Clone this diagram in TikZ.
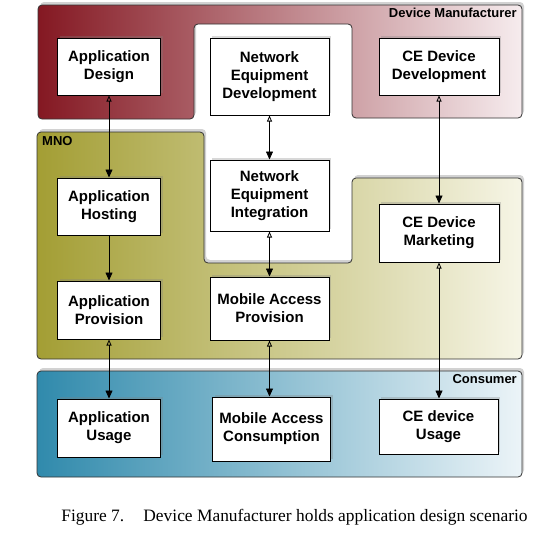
\documentclass[tikz,border=0pt]{standalone}
\usepackage{fontspec}
\setmainfont{Liberation Serif}
\setsansfont{Liberation Sans}
\usepackage{tikz}
\usetikzlibrary{arrows.meta,shadows}

\definecolor{dmdark}{RGB}{132,24,34}
\definecolor{dmmid}{RGB}{184,112,120}
\definecolor{dmlight}{RGB}{246,236,238}
\definecolor{mnodark}{RGB}{163,158,52}
\definecolor{mnomid}{RGB}{208,205,132}
\definecolor{mnolight}{RGB}{246,245,230}
\definecolor{condark}{RGB}{48,138,172}
\definecolor{conmid}{RGB}{130,185,208}
\definecolor{conlight}{RGB}{236,244,248}

\tikzset{
  area/.style={draw=black!80, line width=0.8pt, rounded corners=4pt,
    drop shadow={shadow xshift=2pt, shadow yshift=3pt, opacity=0.35}},
  blk/.style={draw, line width=1pt, fill=white, align=center, inner sep=0pt,
    font=\sffamily\bfseries\fontsize{15}{18}\selectfont,
    drop shadow={shadow xshift=2pt, shadow yshift=2pt, opacity=0.3}},
  tag/.style={inner sep=0pt, font=\sffamily\bfseries\fontsize{13}{15}\selectfont},
  link/.style={{Triangle[open,length=6pt,width=5pt]}-{Triangle[length=8pt,width=7pt]}, line width=0.8pt},
  onelink/.style={-{Triangle[length=8pt,width=7pt]}, line width=0.8pt}
}

\begin{document}
\begin{tikzpicture}[x=1pt,y=1pt,yscale=-1,xscale=1]
\useasboundingbox (0,0) rectangle (536,541);
\fill[white] (0,0) rectangle (536,541);

%Device Manufacturer area
\draw[area, left color=dmdark, middle color=dmmid, right color=dmlight]
  (38,5) -- (522,5) -- (522,118) -- (352,118) -- (352,24) -- (194,24) -- (194,119) -- (38,119) -- cycle;
%MNO area
\draw[area, left color=mnodark, middle color=mnomid, right color=mnolight]
  (37,132) -- (204,132) -- (204,263) -- (352,263) -- (352,178) -- (522,178) -- (522,359) -- (37,359) -- cycle;
%Consumer area
\draw[area, left color=condark, middle color=conmid, right color=conlight]
  (37,371) rectangle (522,477);

% Area labels
\node[tag, anchor=east] (dmtag) at (517,13) {Device Manufacturer};
\node[tag, anchor=west] (mnotag) at (42,141) {MNO};
\node[tag, anchor=east] (contag) at (517,379) {Consumer};

% Text Node
\node[blk, minimum width=103, minimum height=57] (appdesign) at (109,66.5) {Application\\Design};
% Text Node
\node[blk, minimum width=119, minimum height=77] (netdev) at (269.5,76.5) {Network\\Equipment\\Development};
% Text Node
\node[blk, minimum width=120, minimum height=57] (cedev) at (439,66.5) {CE Device\\Development};
% Text Node
\node[blk, minimum width=103, minimum height=57] (apphost) at (109,206.5) {Application\\Hosting};
% Text Node
\node[blk, minimum width=119, minimum height=71] (netint) at (269.5,195.5) {Network\\Equipment\\Integration};
% Text Node
\node[blk, minimum width=120, minimum height=58] (cemkt) at (439,233) {CE Device\\Marketing};
% Text Node
\node[blk, minimum width=103, minimum height=58] (appprov) at (109,310) {Application\\Provision};
% Text Node
\node[blk, minimum width=119, minimum height=63] (mobprov) at (269.5,308.5) {Mobile Access\\Provision};
% Text Node
\node[blk, minimum width=103, minimum height=58] (appuse) at (109,428) {Application\\Usage};
% Text Node
\node[blk, minimum width=118, minimum height=64] (mobcons) at (271.5,429) {Mobile Access\\Consumption};
% Text Node
\node[blk, minimum width=119, minimum height=55] (ceuse) at (438.5,426.5) {CE device\\Usage};

%Arrows
\draw[link] (appdesign.south) -- (apphost.north);
\draw[onelink] (apphost.south) -- (appprov.north);
\draw[link] (appprov.south) -- (appuse.north);
\draw[link] (netdev.south) -- (netint.north);
\draw[link] (netint.south) -- (mobprov.north);
\draw[link] (mobprov.south) -- (mobprov.south |- mobcons.north);
\draw[link] (cedev.south) -- (cemkt.north);
\draw[link] (cemkt.south) -- (cemkt.south |- ceuse.north);

% Caption
\node[font=\fontsize{17.4}{20}\selectfont, inner sep=0pt] (caption) at (294.5,517)
  {Figure 7.\hspace{1.1em}Device Manufacturer holds application design scenario};
\end{tikzpicture}
\end{document}
